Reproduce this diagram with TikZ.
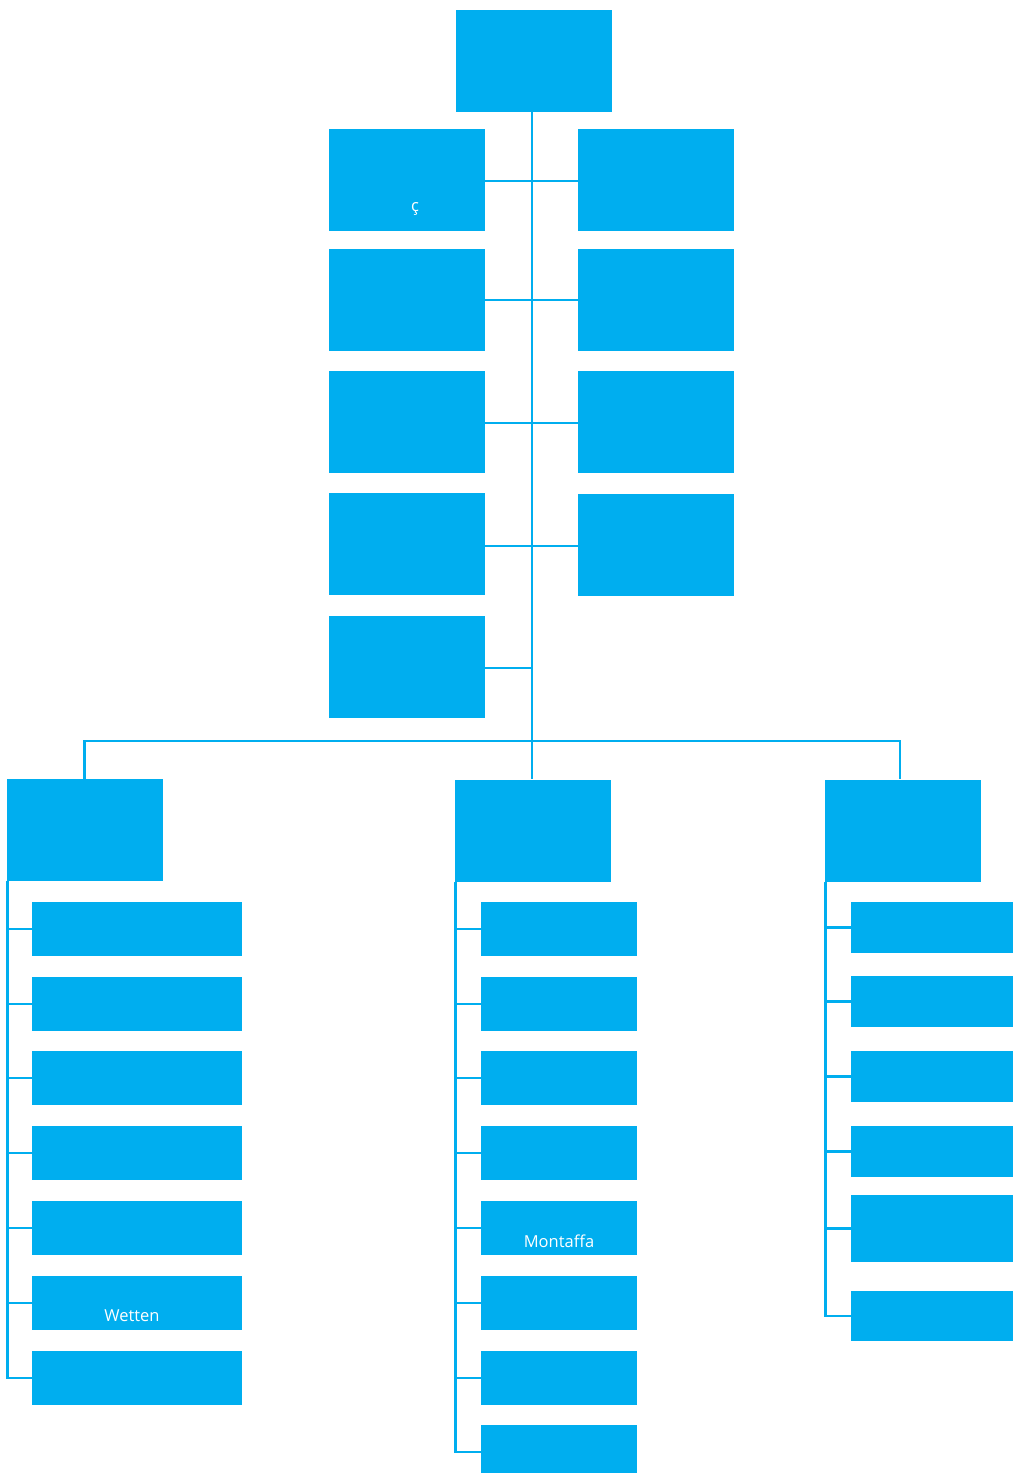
\documentclass[tikz,border=0pt]{standalone}
\usepackage{fontspec}
\setmainfont{Open Sans}
\definecolor{orgblue}{RGB}{0,174,239}
\begin{document}
\begin{tikzpicture}[x=1pt,y=-1pt,
  unit/.style={fill=orgblue,draw=none,inner sep=0pt,minimum width=#1},
  big/.style={unit=156pt,minimum height=102pt},
  small/.style={unit=210pt,minimum height=54pt},
  mid/.style={unit=156pt,minimum height=54pt},
  link/.style={draw=orgblue,line width=2.4pt},
  caption/.style={text=white,font=\fontsize{16.5}{19}\selectfont,yshift=-13pt}]
\useasboundingbox (0,0) rectangle (1013,1473);

% head of the organisation
\node[big] (top) at (533.5,60.5) {};

% staff units, left and right of the trunk
\node[big] (L1) at (407,180) {};
\node[big] (L2) at (407,299.5) {};
\node[big] (L3) at (407,421.5) {};
\node[big] (L4) at (407,544) {};
\node[big] (L5) at (407,666.5) {};
\node[big] (R1) at (656,180) {};
\node[big] (R2) at (656,300) {};
\node[big] (R3) at (656,422) {};
\node[big] (R4) at (656,545) {};
\node[caption,xshift=8pt,yshift=-16pt] at (L1) {ç};

% divisions
\node[big] (lhead) at (84.5,830) {};
\node[big] (mhead) at (532.5,830.5) {};
\node[big] (rhead) at (902.5,830.5) {};

% departments of the left division
\foreach \i/\y in {1/929,2/1004,3/1078,4/1153,5/1228,6/1303,7/1378}
  \node[small] (lc\i) at (137,\y) {};
\node[caption,xshift=-5pt] at (lc6) {Wetten};

% departments of the middle division
\foreach \i/\y in {1/929,2/1004,3/1078,4/1153,5/1228,6/1303,7/1378,8/1452}
  \node[mid] (mc\i) at (559,\y) {};
\node[caption] at (mc5) {Montaffa};

% departments of the right division
\node[unit=162pt,minimum height=51pt] (rc1) at (932,927.5) {};
\node[unit=162pt,minimum height=51pt] (rc2) at (932,1001.5) {};
\node[unit=162pt,minimum height=51pt] (rc3) at (932,1076.5) {};
\node[unit=162pt,minimum height=51pt] (rc4) at (932,1151.5) {};
\node[unit=162pt,minimum height=67pt] (rc5) at (932,1228.5) {};
\node[unit=162pt,minimum height=50pt] (rc6) at (932,1316) {};

% trunk and staff links
\coordinate (bus) at (532,741);
\draw[link] (top.south -| bus) -- (mhead.north -| bus);
\foreach \i/\y in {1/181,2/300,3/423,4/546}
  \draw[link] (L\i.east |- 0,\y) -- (R\i.west |- 0,\y);
\draw[link] (L5.east |- 0,668) -- (bus |- 0,668);

% bus to the divisions
\draw[link] (lhead.north) |- (bus) -| ([xshift=-2.5pt]rhead.north);

% department links
\draw[link] ([xshift=1pt]lhead.south west) |- (lc7.west);
\foreach \i in {1,...,6}
  \draw[link] (lc\i.west -| lhead.south west) -- (lc\i.west);
\draw[link] ([xshift=1pt]mhead.south west) |- (mc8.west);
\foreach \i in {1,...,7}
  \draw[link] (mc\i.west -| mhead.south west) -- (mc\i.west);
\draw[link] ([xshift=1pt]rhead.south west) |- (rc6.west);
\foreach \i in {1,...,5}
  \draw[link] (rc\i.west -| rhead.south west) -- (rc\i.west);
\end{tikzpicture}
\end{document}
